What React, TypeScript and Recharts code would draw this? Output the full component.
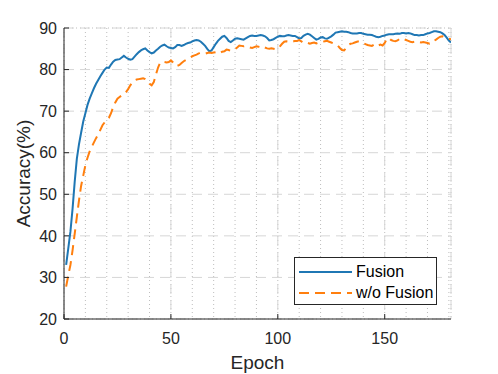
import { CartesianGrid, Legend, Line, LineChart, XAxis, YAxis } from "recharts";

const FONT = "'Liberation Sans', Arial, Helvetica, sans-serif";

// accuracy per epoch (1..181)
const fusion = [
  33.0, 37.0, 41.0, 46.5, 53.0, 58.5, 62.0, 64.8, 67.5, 69.5,
  71.5, 73.0, 74.3, 75.5, 76.6, 77.5, 78.4, 79.2, 80.0, 80.5,
  80.4, 81.2, 81.9, 82.3, 82.4, 82.5, 82.9, 83.3, 82.9, 82.6,
  82.4, 82.5, 83.1, 83.7, 84.2, 84.6, 84.9, 85.1, 84.6, 84.2,
  83.9, 84.1, 84.6, 85.0, 85.5, 85.8, 86.0, 85.6, 85.3, 85.2,
  85.1, 85.4, 85.9, 85.9, 85.7, 85.9, 86.2, 86.4, 86.5, 86.8,
  87.0, 87.1, 87.0, 86.7, 86.2, 85.7, 85.0, 84.4, 84.6, 85.4,
  86.2, 86.9, 87.4, 87.9, 88.1, 87.6, 86.9, 86.6, 87.0, 87.4,
  87.5, 87.4, 87.3, 87.2, 87.5, 87.8, 88.1, 88.2, 88.1, 88.1,
  88.2, 88.3, 88.2, 88.0, 87.6, 87.0, 87.1, 87.3, 87.6, 87.9,
  88.1, 88.0, 88.0, 88.2, 88.3, 88.2, 88.1, 88.1, 87.8, 87.5,
  87.6, 88.1, 88.4, 88.6, 88.4, 88.0, 87.6, 87.2, 87.4, 87.7,
  87.8, 87.5, 87.4, 87.7, 88.0, 88.4, 88.9, 89.0, 89.1, 89.2,
  89.1, 89.1, 89.0, 88.8, 88.7, 88.7, 88.7, 88.8, 88.8, 88.6,
  88.5, 88.4, 88.4, 88.3, 88.1, 87.9, 87.8, 87.9, 88.1, 88.2,
  88.4, 88.5, 88.5, 88.5, 88.6, 88.7, 88.6, 88.8, 88.8, 88.7,
  88.8, 88.7, 88.5, 88.3, 88.3, 88.2, 88.3, 88.3, 88.5, 88.7,
  88.8, 89.0, 89.2, 89.2, 89.1, 89.0, 88.7, 88.3, 87.7, 87.0,
  86.5,
];

const withoutFusion = [
  27.8, 30.5, 33.0, 36.5, 40.5, 44.5, 48.5, 52.0, 54.5, 57.0,
  58.8, 60.3, 61.4, 62.5, 63.5, 64.4, 65.5, 66.6, 67.3, 67.9,
  68.4, 69.5, 71.0, 72.1, 73.0, 73.4, 73.8, 74.1, 74.6, 75.3,
  76.2, 76.9, 77.4, 77.6, 77.7, 77.8, 77.9, 77.7, 77.3, 76.6,
  76.2, 77.0, 78.8, 80.5, 81.7, 81.9, 81.8, 81.7, 81.8, 82.2,
  81.7, 81.0, 80.9, 81.1, 81.6, 82.0, 82.3, 82.6, 82.9, 83.2,
  83.4, 83.6, 83.9, 84.0, 83.9, 83.8, 84.0, 84.1, 84.0, 84.1,
  84.2, 83.9, 84.0, 84.3, 84.4, 84.8, 84.7, 84.5, 84.7, 84.9,
  85.3, 85.8, 85.7, 85.6, 85.7, 85.5, 85.3, 85.2, 85.4, 85.6,
  85.5, 85.4, 85.6, 85.3, 85.1, 85.0, 85.1, 85.0, 84.9, 85.0,
  85.6, 86.2, 86.7, 86.8, 86.7, 86.6, 86.7, 86.9, 86.9, 87.1,
  86.8, 86.4, 86.3, 86.4, 86.2, 86.4, 86.5, 86.3, 86.5, 86.6,
  86.7, 86.8, 86.9, 86.7, 86.5, 86.3, 86.1, 85.8, 85.2, 84.7,
  84.6, 85.2, 85.9, 86.2, 86.3, 86.5, 86.7, 86.8, 86.6, 86.4,
  86.1, 85.9, 85.8, 85.7, 86.0, 85.6, 85.8, 86.0, 85.8, 86.4,
  87.4, 87.6, 87.1, 86.9, 86.8, 87.0, 87.4, 87.5, 87.3, 87.1,
  86.9, 86.7, 86.6, 86.7, 86.8, 86.6, 86.5, 86.6, 86.5, 86.4,
  86.2, 86.4, 86.9, 87.2, 87.6, 87.9, 88.0, 87.8, 87.6, 87.4,
  87.3,
];

const epochs = fusion.map((_, i) => i + 1);

const xTicks = [0, 50, 100, 150];
const yTicks = [20, 30, 40, 50, 60, 70, 80, 90];
const xMinorTicks = [0, 10, 20, 30, 40, 50, 60, 70, 80, 90, 100, 110, 120, 130, 140, 150, 160, 170, 180];
const yMinorTicks = [20, 22, 24, 26, 28, 30, 32, 34, 36, 38, 40, 42, 44, 46, 48, 50, 52, 54, 56, 58, 60, 62, 64, 66, 68, 70, 72, 74, 76, 78, 80, 82, 84, 86, 88, 90];

const series = [
  { key: "fusion", name: "Fusion", color: "#1f77b4", dash: undefined as string | undefined },
  { key: "noFusion", name: "w/o Fusion", color: "#ff7f0e", dash: "10 6" },
];

const data = epochs.map((epoch, i) => ({
  epoch,
  fusion: fusion[i],
  noFusion: withoutFusion[i],
}));

const AXIS = "#262626";
const tickStyle = { fontSize: 16, fill: AXIS, fontFamily: FONT };
const blank = () => "";

function YLabel(props: any) {
  const { x, y, height } = props.viewBox;
  const cx = x + 23;
  const cy = y + height / 2;
  return (
    <text x={cx} y={cy} transform={`rotate(-90 ${cx} ${cy})`} textAnchor="middle" dominantBaseline="central"
      fontSize={19} fill={AXIS} fontFamily={FONT}>
      Accuracy(%)
    </text>
  );
}

function XLabel(props: any) {
  const { x, y, width } = props.viewBox;
  return (
    <text x={x + width / 2} y={y + 50} textAnchor="middle" fontSize={19} fill={AXIS} fontFamily={FONT}>
      Epoch
    </text>
  );
}

function LegendBox() {
  return (
    <div style={{ width: 141, height: 46, border: `1px solid ${AXIS}`, background: "#fff", fontFamily: FONT, fontSize: 16, color: "#000" }}>
      {series.map((s, i) => (
        <div key={s.key} style={{ display: "flex", alignItems: "center", height: 21, marginTop: i === 0 ? 3 : 0 }}>
          <svg width={61} height={10} style={{ display: "block" }}>
            <line x1={4} x2={57} y1={5} y2={5} stroke={s.color} strokeWidth={2} strokeDasharray={s.dash} />
          </svg>
          <span style={{ lineHeight: "21px" }}>{s.name}</span>
        </div>
      ))}
    </div>
  );
}

export default function App() {
  return (
    <div style={{ position: "absolute", left: 0, top: 0, width: 498, height: 374, background: "#fff" }}>
      <LineChart width={498} height={374} data={data} margin={{ top: 28, right: 47, bottom: 0, left: 0 }}>
        <CartesianGrid xAxisId="minor" yAxisId="minor" stroke="#bdbdbd" strokeDasharray="1 3" />
        <CartesianGrid stroke="#d6d6d6" strokeDasharray="10 6" />
        <XAxis
          type="number"
          dataKey="epoch"
          domain={[0, 181]}
          ticks={xTicks}
          allowDataOverflow
          height={55}
          stroke={AXIS}
          tickSize={-5}
          tickMargin={19}
          tick={tickStyle}
          label={<XLabel />}
        />
        <XAxis
          xAxisId="top"
          orientation="top"
          type="number"
          dataKey="epoch"
          domain={[0, 181]}
          ticks={xTicks}
          height={0}
          stroke={AXIS}
          tickSize={-5}
          tickFormatter={blank}
        />
        <XAxis
          xAxisId="minor"
          orientation="top"
          type="number"
          dataKey="epoch"
          domain={[0, 181]}
          ticks={xMinorTicks}
          interval={0}
          height={0}
          axisLine={false}
          tickLine={false}
          tickFormatter={blank}
        />
        <YAxis
          type="number"
          domain={[20, 90]}
          ticks={yTicks}
          allowDataOverflow
          width={64}
          stroke={AXIS}
          tickSize={-5}
          tickMargin={12}
          tick={tickStyle}
          label={<YLabel />}
        />
        <YAxis
          yAxisId="right"
          orientation="right"
          type="number"
          domain={[20, 90]}
          ticks={yTicks}
          width={0}
          stroke={AXIS}
          tickSize={-5}
          tickFormatter={blank}
        />
        <YAxis
          yAxisId="minor"
          orientation="right"
          type="number"
          domain={[20, 90]}
          ticks={yMinorTicks}
          interval={0}
          width={0}
          axisLine={false}
          tickLine={false}
          tickFormatter={blank}
        />
        {series.map((s) => (
          <Line
            key={s.key}
            dataKey={s.key}
            name={s.name}
            stroke={s.color}
            strokeWidth={2}
            strokeDasharray={s.dash}
            dot={false}
            activeDot={false}
            isAnimationActive={false}
          />
        ))}
        <Legend
          layout="vertical"
          verticalAlign="middle"
          align="center"
          content={<LegendBox />}
          wrapperStyle={{ left: 294, top: 257, width: "auto", height: "auto" }}
        />
      </LineChart>
    </div>
  );
}
